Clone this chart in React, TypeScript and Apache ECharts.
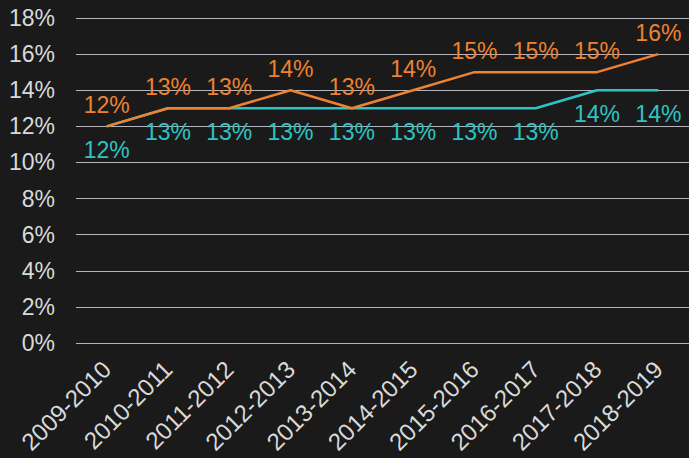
import React, { useEffect, useRef } from "react";
import * as echarts from "echarts";

const categories = ["2009-2010", "2010-2011", "2011-2012", "2012-2013", "2013-2014", "2014-2015", "2015-2016", "2016-2017", "2017-2018", "2018-2019"];
const orangeValues = [12, 13, 13, 14, 13, 14, 15, 15, 15, 16];
const tealValues = [12, 13, 13, 13, 13, 13, 13, 13, 14, 14];

const FONT = "'Liberation Sans', Arial, sans-serif";

export default function App() {
  const ref = useRef<HTMLDivElement>(null);
  useEffect(() => {
    const chart = echarts.init(ref.current!, null, { renderer: "svg" });
    chart.setOption({
      animation: false,
      backgroundColor: "#1a1a1a",
      grid: { left: 76, right: -5, top: 18, bottom: 115, containLabel: false },
      xAxis: {
        type: "category",
        data: categories,
        boundaryGap: true,
        axisLine: { show: false },
        axisTick: { show: false },
        axisLabel: {
          interval: 0,
          rotate: 45,
          margin: 22,
          color: "#d9d9d9",
          fontSize: 24,
          fontFamily: FONT,
        },
      },
      yAxis: {
        type: "value",
        min: 0,
        max: 18,
        interval: 2,
        axisLine: { show: false },
        axisTick: { show: false },
        axisLabel: {
          formatter: "{value}%",
          margin: 21,
          color: "#d9d9d9",
          fontSize: 23,
          fontFamily: FONT,
        },
        splitLine: { lineStyle: { color: "#b4b4bc", width: 1 } },
      },
      series: [
        {
          type: "line",
          data: tealValues,
          showSymbol: true,
          symbol: "circle",
          symbolSize: 0.1,
          lineStyle: { color: "#2ec4c4", width: 2.5 },
          itemStyle: { color: "#2ec4c4" },
          label: {
            show: true,
            position: "bottom",
            distance: 12,
            formatter: "{c}%",
            color: "#2ec4c4",
            fontSize: 23,
            fontFamily: FONT,
          },
          labelLayout: { hideOverlap: false },
          z: 2,
        },
        {
          type: "line",
          data: orangeValues,
          showSymbol: true,
          symbol: "circle",
          symbolSize: 0.1,
          lineStyle: { color: "#ee8230", width: 2.5 },
          itemStyle: { color: "#ee8230" },
          label: {
            show: true,
            position: "top",
            distance: 10,
            formatter: "{c}%",
            color: "#ee8230",
            fontSize: 23,
            fontFamily: FONT,
          },
          labelLayout: { hideOverlap: false },
          z: 3,
        },
      ],
    });
    return () => chart.dispose();
  }, []);
  return <div ref={ref} style={{ width: 689, height: 458, position: "fixed", left: 0, top: 0 }} />;
}
